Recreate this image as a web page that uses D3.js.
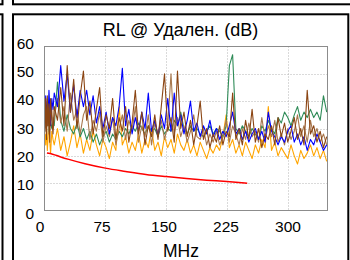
<!DOCTYPE html>
<html>
<head>
<meta charset="utf-8">
<script src="https://cdn.jsdelivr.net/npm/d3@7"></script>
<style>
  body { margin: 0; background: #fff; }
  svg { display: block; font-family: "Liberation Sans", Arial, sans-serif; }
</style>
</head>
<body>
<script>
// measurement frequencies (MHz)
const freq = [
  0.5, 1.5, 2.5, 3.5, 4.5, 5.5, 6.5, 7.5, 9, 10.5,
  12, 16, 20, 24, 28, 32, 36, 40, 44, 48,
  52, 56, 60, 64, 68, 72, 76, 80, 84, 88,
  92, 96, 100, 104, 108, 112, 116, 120, 124, 128,
  132, 136, 140, 144, 148, 152, 156, 160, 164, 168,
  172, 176, 180, 184, 188, 192, 196, 200, 204, 208,
  212, 216, 220, 224, 228, 232, 236, 240, 244, 248,
  252, 256, 260, 264, 268, 272, 276, 280, 284, 288,
  292, 296, 300, 304, 308, 312, 316, 320, 324, 328,
  332, 336, 340, 344, 348
]

const pairBlue = [
  36, 42, 33, 40, 35, 44, 38, 31, 41, 37,
  43, 38, 53, 40, 50, 36, 46, 34, 44, 38,
  44, 35, 42, 32, 38, 30, 36, 28, 34, 31,
  38, 52, 31, 37, 28, 34, 29, 36, 30, 43,
  29, 33, 27, 35, 30, 41, 29, 43, 31, 35,
  28, 33, 40, 29, 32, 27, 31, 28, 33, 27,
  30, 26, 29, 27, 31, 36, 28, 30, 26, 29,
  25, 28, 30, 26, 29, 25, 36, 29, 27, 24,
  27, 25, 29, 31, 25, 28, 24, 27, 22, 26,
  24, 28, 25, 22, 24
]
const pairGreen = [
  33, 30, 36, 31, 34, 29, 35, 32, 30, 34,
  31, 47, 33, 29, 35, 30, 28, 32, 27, 30,
  26, 29, 25, 28, 24, 27, 29, 25, 28, 26,
  29, 27, 30, 28, 31, 29, 32, 30, 28, 31,
  29, 30, 27, 31, 28, 30, 29, 33, 31, 36,
  30, 28, 31, 29, 30, 28, 27, 29, 31, 28,
  30, 29, 27, 31, 53, 57, 30, 28, 31, 29,
  27, 30, 28, 26, 31, 29, 33, 30, 28, 34,
  32, 36, 34, 31, 35, 38, 33, 36, 34, 37,
  34, 36, 33, 42, 36
]
const pairOrange = [
  28, 24, 31, 22, 27, 33, 25, 21, 29, 26,
  24, 30, 22, 27, 20, 25, 31, 23, 28, 21,
  26, 22, 29, 24, 20, 26, 23, 19, 25, 22,
  38, 24, 27, 21, 25, 22, 28, 21, 26, 23,
  30, 22, 25, 20, 27, 23, 26, 21, 28, 24,
  22, 26, 21, 24, 20, 25, 22, 19, 23, 21,
  24, 22, 27, 35, 23, 26, 21, 24, 20, 25,
  22, 19, 24, 21, 26, 23, 38, 22, 25, 20,
  23, 21, 19, 24, 20, 17, 22, 19, 21, 24,
  20, 23, 19, 22, 18
]
const pairBrown = [
  30, 41, 26, 42, 31, 39, 25, 41, 33, 28,
  38, 33, 45, 31, 53, 36, 48, 30, 42, 51,
  33, 40, 28, 37, 45, 27, 35, 30, 41, 26,
  34, 29, 38, 25, 32, 44, 28, 36, 24, 31,
  27, 35, 26, 38, 50, 29, 34, 25, 51, 30,
  36, 27, 33, 24, 31, 40, 26, 30, 23, 28,
  25, 31, 24, 29, 27, 43, 26, 30, 24, 33,
  26, 37, 25, 30, 23, 28, 26, 31, 24, 34,
  27, 32, 25, 29, 34, 26, 30, 24, 44, 28,
  31, 25, 29, 23, 27
]
const pairTan = [
  35, 29, 38, 31, 36, 28, 40, 33, 37, 30,
  34, 41, 32, 38, 29, 43, 33, 37, 28, 35,
  38, 26, 33, 29, 36, 25, 31, 27, 34, 24,
  30, 35, 26, 33, 29, 38, 25, 31, 27, 35,
  24, 32, 28, 33, 26, 31, 50, 28, 34, 27,
  31, 25, 29, 35, 27, 26, 30, 24, 28, 25,
  29, 24, 27, 33, 25, 31, 28, 24, 30, 26,
  32, 27, 29, 25, 34, 26, 31, 27, 33, 25,
  28, 24, 30, 26, 29, 35, 27, 31, 25, 33,
  27, 30, 25, 28, 24
]

// limit line
const limitFreq = [3, 10, 20, 30, 50, 75, 100, 125, 150, 175, 200, 225, 250]
const limitVals = [21, 20.6, 19.6, 18.7, 17.1, 15.5, 14.3, 13.2, 12.4, 11.7, 11.1, 10.6, 10.0]

const xTicks = [0, 75, 150, 225, 300]
const yTicks = [0, 10, 20, 30, 40, 50, 60]

const series = [
  {values: pairOrange, color: "#ffa500"},
  {values: pairGreen, color: "#2e8b57"},
  {values: pairTan, color: "#a8784e"},
  {values: pairBlue, color: "#0000ff"},
  {values: pairBrown, color: "#8b4513"}
]

const width = 350, height = 260
const plotL = 44.5, plotR = 327.5, plotT = 46.5, plotB = 210.5

const xScale = d3.scaleLinear([0, 349], [plotL, plotR])
const yScale = d3.scaleLinear([0, 60], [plotB, plotT])
// tick labels are spaced a little wider than the grid
const xLab = d3.scaleLinear([0, 300], [40, 288])
const yLab = d3.scaleLinear([0, 60], [213, 43])

const svg = d3.select("body").append("svg")
  .attr("width", width)
  .attr("height", height)

// neighbouring panels
svg.append("rect")
  .attr("x", -100).attr("y", -20).attr("width", 102.5).attr("height", 24.3)
  .attr("fill", "none").attr("stroke", "#000").attr("stroke-width", 2)
svg.append("rect")
  .attr("x", -100).attr("y", 14.3).attr("width", 102.5).attr("height", 300)
  .attr("fill", "none").attr("stroke", "#000").attr("stroke-width", 2)
svg.append("rect")
  .attr("x", 13).attr("y", -20).attr("width", 400).attr("height", 24.3)
  .attr("fill", "none").attr("stroke", "#000").attr("stroke-width", 2)
// this panel
svg.append("rect")
  .attr("x", 13).attr("y", 14.3).attr("width", 335.3).attr("height", 300)
  .attr("fill", "none").attr("stroke", "#000").attr("stroke-width", 2)

// title
svg.append("text")
  .attr("x", 180.5).attr("y", 36)
  .attr("text-anchor", "middle")
  .attr("font-size", 18)
  .text("RL @ Удален. (dB)")

// grid
const grid = svg.append("g")
  .attr("stroke", "#b4b4b4")
  .attr("stroke-dasharray", "1,2")
grid.selectAll(".gx")
  .data(xTicks.filter(d => d > 0))
  .join("line")
  .attr("x1", d => Math.round(xScale(d)) + 0.5)
  .attr("x2", d => Math.round(xScale(d)) + 0.5)
  .attr("y1", plotT).attr("y2", plotB)
grid.selectAll(".gy")
  .data(yTicks.filter(d => d > 0 && d < 60))
  .join("line")
  .attr("x1", plotL).attr("x2", plotR)
  .attr("y1", d => Math.round(yScale(d)) + 0.5)
  .attr("y2", d => Math.round(yScale(d)) + 0.5)

svg.append("clipPath").attr("id", "clip")
  .append("rect")
  .attr("x", plotL).attr("y", plotT)
  .attr("width", plotR - plotL).attr("height", plotB - plotT)

const line = d3.line()
  .x((d, i) => xScale(freq[i]))
  .y(d => yScale(d))

const plot = svg.append("g").attr("clip-path", "url(#clip)")
plot.selectAll("path.s")
  .data(series)
  .join("path")
  .attr("fill", "none")
  .attr("stroke", d => d.color)
  .attr("stroke-width", 1.1)
  .attr("stroke-linejoin", "round")
  .attr("d", d => line(d.values))

const limitLine = d3.line()
  .x((d, i) => xScale(limitFreq[i]))
  .y(d => yScale(d))
  .curve(d3.curveMonotoneX)
plot.append("path")
  .attr("fill", "none")
  .attr("stroke", "#ff0000")
  .attr("stroke-width", 1.5)
  .attr("d", limitLine(limitVals))

// frame
svg.append("rect")
  .attr("x", plotL).attr("y", plotT)
  .attr("width", plotR - plotL).attr("height", plotB - plotT)
  .attr("fill", "none").attr("stroke", "#8c8c8c").attr("stroke-width", 1)

// tick labels
svg.append("g")
  .attr("font-size", 15.5)
  .attr("text-anchor", "end")
  .selectAll("text")
  .data(yTicks)
  .join("text")
  .attr("x", 34)
  .attr("y", d => yLab(d))
  .attr("dy", "0.36em")
  .text(d => d)

svg.append("g")
  .attr("font-size", 15.5)
  .attr("text-anchor", "middle")
  .selectAll("text")
  .data(xTicks)
  .join("text")
  .attr("x", d => xLab(d))
  .attr("y", 232)
  .text(d => d)

svg.append("text")
  .attr("x", 181).attr("y", 257)
  .attr("text-anchor", "middle")
  .attr("font-size", 17.5)
  .text("MHz")
</script>
</body>
</html>
